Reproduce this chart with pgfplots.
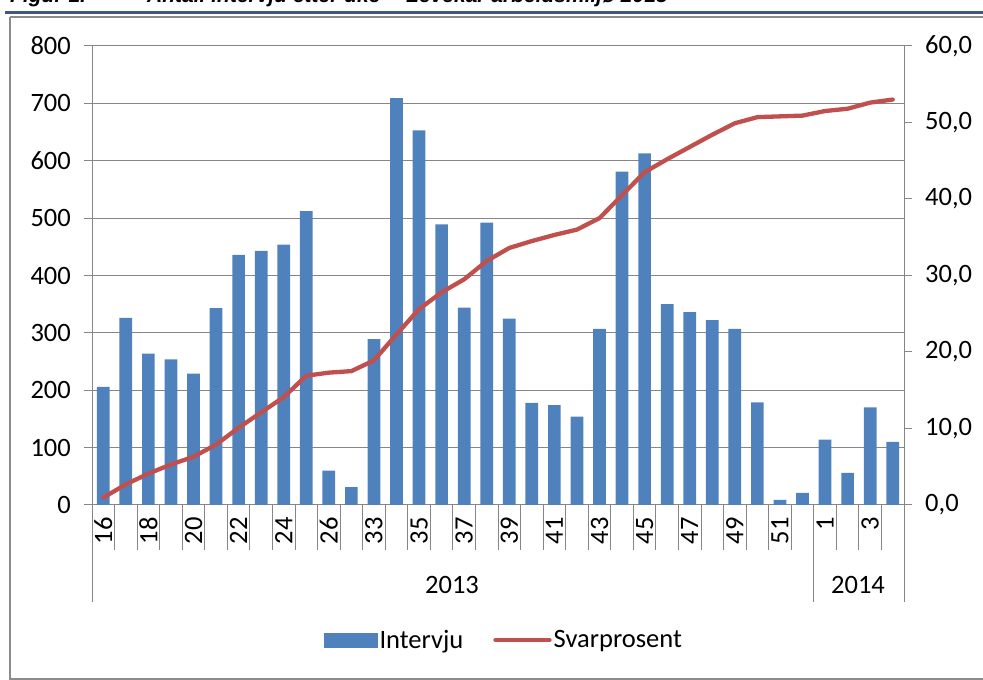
\documentclass[border=0pt]{standalone}
\usepackage{pgfplots}
\pgfplotsset{compat=1.18}
\usepackage{fontspec}
\setmainfont{Carlito}
\newfontfamily\titlefont{Liberation Sans}
\definecolor{barblue}{HTML}{4F81BD}
\definecolor{linered}{HTML}{C0504D}
\definecolor{gridgray}{HTML}{868686}
\definecolor{framegray}{HTML}{8C8C8C}
\definecolor{rulecol}{HTML}{41577F}
\newcommand{\lblfont}{\fontsize{26.5}{30}\selectfont}
\begin{document}
\begin{tikzpicture}[x=1pt,y=1pt]
\useasboundingbox (0,0) rectangle (983,680);
% title (cut off at top in the reference)
\node[anchor=base west, inner sep=0pt, font=\titlefont\bfseries\itshape\fontsize{21}{24}\selectfont] at (10,677) {Figur 1.};
\node[anchor=base west, inner sep=0pt, font=\titlefont\bfseries\itshape\fontsize{21}{24}\selectfont] at (147,677) {Antall intervju etter uke -- Levekår arbeidsmiljø 2013};
\fill[rulecol] (5,666) rectangle (990,669);
\draw[framegray, line width=1.5pt] (10,663) -- (990,663);
\draw[framegray, line width=2pt] (10,663) -- (10,1) -- (990,1);

\begin{axis}[
  at={(92pt,175pt)}, anchor=south west, scale only axis,
  width=812pt, height=459pt,
  xmin=-0.5, xmax=35.5, ymin=0, ymax=800,
  axis y line*=left, axis x line*=bottom,
  axis line style={gridgray, line width=1pt},
  ybar, bar width=12.7pt,
  ytick={0,100,...,800},
  ymajorgrids, grid style={gridgray, line width=1pt},
  y tick style={gridgray, line width=1pt},
  tick align=outside, major tick length=8pt,
  xtick={0,...,35},
  xticklabels={16,,18,,20,,22,,24,,26,,33,,35,,37,,39,,41,,43,,45,,47,,49,,51,,1,,3,},
  x tick style={draw=none},
  tick label style={font=\lblfont},
  /pgf/number format/assume math mode=true,
  xticklabel style={yshift=-4pt, rotate=90, anchor=east, inner sep=0pt},
  yticklabel style={inner sep=0pt, xshift=-13pt},
  clip=false,
]
\addplot[fill=barblue, draw=none] coordinates {
(0,206) (1,326) (2,264) (3,254) (4,229) (5,343) (6,436) (7,443) (8,454) (9,512)
(10,60) (11,31) (12,289) (13,709) (14,653) (15,489) (16,344) (17,492) (18,325) (19,178)
(20,174) (21,154) (22,307) (23,581) (24,613) (25,350) (26,336) (27,322) (28,307) (29,179)
(30,9) (31,21) (32,114) (33,56) (34,170) (35,110)
};
\end{axis}

\begin{axis}[
  at={(92pt,175pt)}, anchor=south west, scale only axis,
  width=812pt, height=459pt,
  xmin=-0.5, xmax=35.5, ymin=0, ymax=60,
  axis y line*=right, axis x line=none,
  axis line style={gridgray, line width=1pt},
  ytick={0,10,...,60},
  y tick style={gridgray, line width=1pt},
  tick align=outside, major tick length=8pt,
  tick label style={font=\lblfont},
  /pgf/number format/assume math mode=true,
  yticklabel style={inner sep=0pt, xshift=13pt, /pgf/number format/fixed, /pgf/number format/fixed zerofill, /pgf/number format/precision=1, /pgf/number format/use comma},
  clip=false,
  legend style={at={(0.5074,-0.294)}, anchor=center, draw=none, fill=none,
    legend columns=2, font=\lblfont, legend cell align=left,
    /tikz/every even column/.append style={column sep=28pt}},
]
\addlegendimage{legend image code/.code={\fill[barblue] (0pt,-7pt) rectangle (53pt,7pt);}}
\addlegendentry{Intervju}
\addplot[linered, line width=4.3pt, line join=round, line cap=round,
  legend image code/.code={\draw[linered, line width=4.3pt] (0pt,0pt) -- (54pt,0pt);}] coordinates {
(0,0.96) (1,2.7) (2,4.1) (3,5.3) (4,6.3) (5,7.9) (6,10.1) (7,12.1) (8,14.1) (9,16.9)
(10,17.3) (11,17.5) (12,18.9) (13,22.3) (14,25.6) (15,27.8) (16,29.5) (17,31.9) (18,33.6) (19,34.5)
(20,35.3) (21,36.0) (22,37.5) (23,40.5) (24,43.5) (25,45.2) (26,46.8) (27,48.4) (28,49.9) (29,50.7)
(30,50.8) (31,50.9) (32,51.5) (33,51.8) (34,52.6) (35,53.0)
};
\addlegendentry{Svarprosent}
\end{axis}

\foreach \i in {1,...,35} \draw[gridgray, line width=1pt] ({92+\i*22.5556},175) -- ++(0,-45);
\foreach \i in {0,32,36} \draw[gridgray, line width=1pt] ({92+\i*22.5556},175) -- ++(0,-97);
\node[font=\lblfont, inner sep=0pt] at (452,95.5) {2013};
\node[font=\lblfont, inner sep=0pt] at (858,95.5) {2014};
\end{tikzpicture}
\end{document}
